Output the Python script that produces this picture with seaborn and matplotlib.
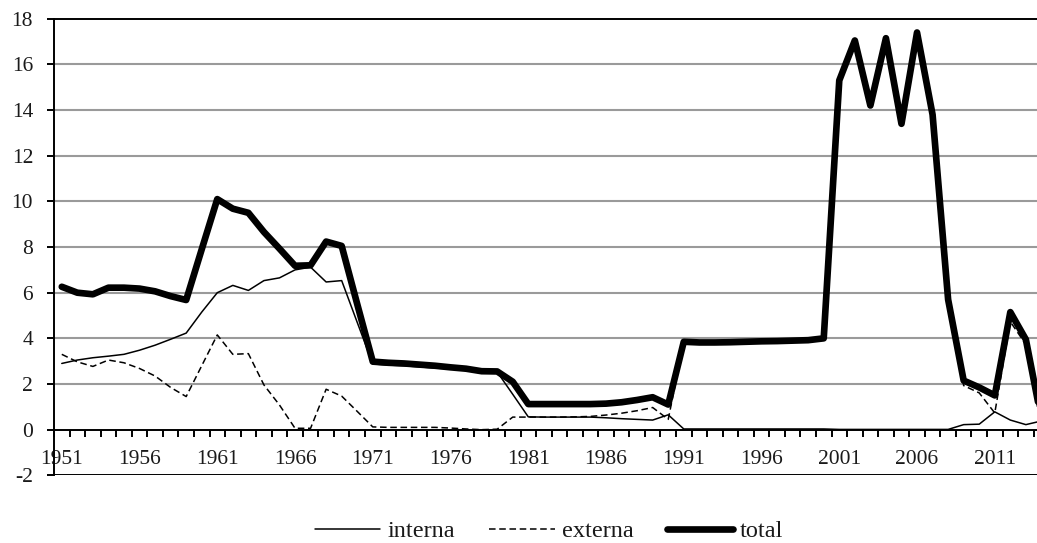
import numpy as np
import pandas as pd
import matplotlib
matplotlib.use("Agg")
import matplotlib.pyplot as plt
import seaborn as sns

years = list(range(1951, 2015))

interna = [2.90, 3.05, 3.15, 3.22, 3.30, 3.48, 3.70, 3.96, 4.23, 5.15,
           6.00, 6.32, 6.10, 6.53, 6.65, 7.00, 7.12, 6.47, 6.53, 4.70,
           2.88, 2.83, 2.80, 2.75, 2.70, 2.66, 2.64, 2.56, 2.53, 1.55,
           0.56, 0.55, 0.55, 0.55, 0.55, 0.52, 0.48, 0.45, 0.42, 0.65,
           0.03, 0.03, 0.03, 0.03, 0.03, 0.03, 0.03, 0.03, 0.03, 0.03,
           0.01, 0.01, 0.01, 0.01, 0.01, 0.01, 0.01, 0.01,
           0.22, 0.24, 0.78, 0.42, 0.22, 0.38]

externa = [3.30, 2.97, 2.77, 3.05, 2.93, 2.68, 2.35, 1.85, 1.45, 2.80,
           4.15, 3.30, 3.33, 1.96, 1.08, 0.06, 0.06, 1.77, 1.47, 0.80,
           0.12, 0.10, 0.10, 0.10, 0.10, 0.07, 0.03, 0.00, 0.02, 0.55,
           0.55, 0.55, 0.55, 0.56, 0.58, 0.64, 0.72, 0.83, 0.97, 0.45,
           3.82, 3.79, 3.79, 3.80, 3.82, 3.84, 3.85, 3.87, 3.89, 3.97,
           15.30, 17.05, 14.20, 17.15, 13.40, 17.40, 13.80, 5.70,
           1.93, 1.61, 0.73, 4.73, 3.73, 0.07]

total = [6.26, 6.00, 5.93, 6.22, 6.22, 6.18, 6.06, 5.85, 5.68, 7.90,
         10.10, 9.68, 9.50, 8.66, 7.93, 7.18, 7.20, 8.24, 8.05, 5.50,
         2.98, 2.93, 2.90, 2.85, 2.80, 2.73, 2.67, 2.56, 2.55, 2.10,
         1.12, 1.12, 1.12, 1.12, 1.12, 1.14, 1.20, 1.30, 1.42, 1.10,
         3.85, 3.82, 3.82, 3.83, 3.85, 3.87, 3.88, 3.90, 3.92, 4.00,
         15.30, 17.05, 14.20, 17.15, 13.40, 17.40, 13.80, 5.70,
         2.15, 1.85, 1.50, 5.15, 3.95, 0.45]

series_labels = ["interna", "externa", "total"]
xtick_labels = [str(y) for y in range(1951, 2015, 5)]
ytick_values = list(range(-2, 19, 2))

df = pd.DataFrame({"year": years, "interna": interna,
                   "externa": externa, "total": total})

sns.set_style("white")
plt.rcParams["font.family"] = ["Liberation Serif", "DejaVu Serif"]
TXT = "#1a1a1a"

W, H = 1037, 543
fig = plt.figure(figsize=(W / 100, H / 100), dpi=100)
left_px, right_px = 54, 1049.2
top_px, bot_px = 18.8, 475.3
ax = fig.add_axes([left_px / W, 1 - bot_px / H,
                   (right_px - left_px) / W, (bot_px - top_px) / H])

# gridlines
for v in range(2, 17, 2):
    ax.axhline(v, color="#9a9a9a", lw=1.5, zorder=0)
ax.axhline(-2, color="black", lw=1.4, zorder=1)

sns.lineplot(data=df, x="year", y="interna", ax=ax, color="black",
             lw=1.1, label=series_labels[0], zorder=3)
sns.lineplot(data=df, x="year", y="externa", ax=ax, color="black",
             lw=1.1, label=series_labels[1], zorder=3)
ax.lines[-1].set_dashes((4.3, 2.4))
sns.lineplot(data=df, x="year", y="total", ax=ax, color="black",
             lw=4.8, label=series_labels[2], zorder=4,
             solid_capstyle="round", solid_joinstyle="round")

ax.set_xlim(1950.5, 2014.5)
ax.set_ylim(-2, 18)

# spines
ax.spines["right"].set_visible(False)
ax.spines["top"].set_visible(True)
ax.spines["top"].set_color("black")
ax.spines["top"].set_linewidth(1.4)
ax.spines["left"].set_color("black")
ax.spines["left"].set_linewidth(1.4)
ax.spines["bottom"].set_position(("data", 0))
ax.spines["bottom"].set_color("black")
ax.spines["bottom"].set_linewidth(1.4)

# ticks
ax.set_yticks(ytick_values)
ax.set_yticklabels([str(v) for v in ytick_values])
ax.set_xticks(list(range(1951, 2015, 5)))
ax.set_xticklabels(xtick_labels)
ax.set_xticks(np.arange(1950.5, 2015, 1.0), minor=True)
ax.tick_params(axis="y", which="major", direction="out", length=5, width=1.4,
               color="black", pad=10, labelsize=15.5, labelcolor=TXT, left=True)
ax.tick_params(axis="x", which="major", length=0, pad=14.5,
               labelsize=15.5, labelcolor=TXT, bottom=True)
ax.tick_params(axis="x", which="minor", direction="out", length=5, width=1.4,
               color="black", bottom=True)
ax.set_xlabel("")
ax.set_ylabel("")

handles, labels = ax.get_legend_handles_labels()
ax.get_legend().remove()
fig.legend(handles, labels, loc="center",
           bbox_to_anchor=(549 / W, 1 - 531 / H), ncol=3, frameon=False,
           fontsize=17.5, handlelength=2.7, handletextpad=0.29,
           columnspacing=1.4, labelcolor=TXT, borderpad=0.2)

fig.savefig("out.png", dpi=100)
